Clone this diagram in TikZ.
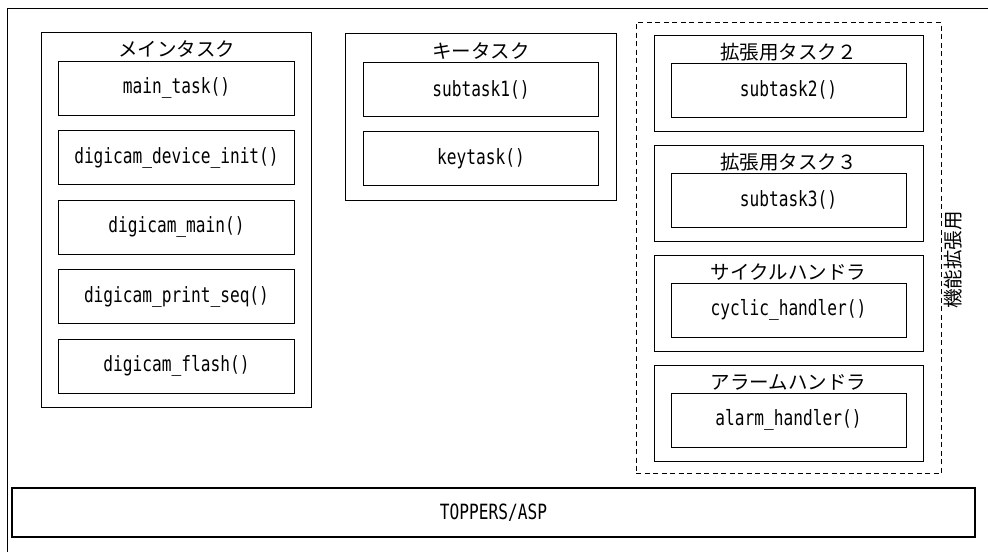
\documentclass[tikz,border=0pt]{standalone}
\usepackage{fontspec}
\setmainfont{Noto Sans CJK JP}
\newfontfamily\codefont[FakeStretch=0.77]{DejaVu Sans Mono}
\usetikzlibrary{matrix,positioning,fit}
\newcommand{\textmain}{メインタスク}
\newcommand{\textkey}{キータスク}
\newcommand{\textsubb}{拡張用タスク２}
\newcommand{\textsubc}{拡張用タスク３}
\newcommand{\textcyc}{サイクルハンドラ}
\newcommand{\textalm}{アラームハンドラ}
\newcommand{\textext}{機能拡張用}

\begin{document}
\begin{tikzpicture}[x=1pt,y=-1pt,
    any/.style={draw,line width=1pt,inner sep=0pt,outer sep=0pt},
    func/.style={any,minimum width=235pt,minimum height=54pt,%
                 font=\codefont\fontsize{21}{24}\selectfont},
    group/.style={any,inner xsep=17pt,inner ysep=14pt},
    title/.style={font=\fontsize{19.5}{22}\selectfont,inner sep=0pt},
    extframe/.style={draw,line width=1pt,dash pattern=on 5pt off 3.5pt,%
                 inner xsep=18pt,inner ysep=12.5pt}
]
\useasboundingbox (0,0) rectangle (988,552);
\draw[line width=1pt] (988,8) -| (7,552);

\matrix (mainfn) [matrix of nodes,nodes={func},row sep=14.5pt,inner sep=0pt] at (176.5,227)
{
  main\_task() \\
  digicam\_device\_init() \\
  digicam\_main() \\
  digicam\_print\_seq() \\
  digicam\_flash() \\
};
\coordinate (maintop) at ([yshift=14pt]mainfn.north);
\node[group, fit=(mainfn)(maintop)] (main) {};
\node[title] (maintitle) at ([yshift=-17pt]main.north) {\textmain};

\matrix (keyfn) [matrix of nodes,nodes={func},row sep=14pt,inner sep=0pt] at (481,124)
{
  subtask1() \\
  keytask() \\
};
\coordinate (keytop) at ([yshift=14pt]keyfn.north);
\node[group, fit=(keyfn)(keytop)] (key) {};
\node[title] (keytitle) at ([yshift=-17pt]key.north) {\textkey};

\node[func] (subbfn) at (788.5,90) {subtask2()};
\node[func, below=56pt of subbfn] (subcfn) {subtask3()};
\node[func, below=56pt of subcfn] (cycfn) {cyclic\_handler()};
\node[func, below=56pt of cycfn] (almfn) {alarm\_handler()};

\coordinate (subbtop) at ([yshift=14pt]subbfn.north);
\coordinate (subctop) at ([yshift=14pt]subcfn.north);
\coordinate (cyctop) at ([yshift=14pt]cycfn.north);
\coordinate (almtop) at ([yshift=14pt]almfn.north);
\node[group, fit=(subbfn)(subbtop)] (subb) {};
\node[group, fit=(subcfn)(subctop)] (subc) {};
\node[group, fit=(cycfn)(cyctop)] (cyc) {};
\node[group, fit=(almfn)(almtop)] (alm) {};
\node[title] (subbtitle) at ([yshift=-17pt]subb.north) {\textsubb};
\node[title] (subctitle) at ([yshift=-17pt]subc.north) {\textsubc};
\node[title] (cyctitle) at ([yshift=-17pt]cyc.north) {\textcyc};
\node[title] (almtitle) at ([yshift=-17pt]alm.north) {\textalm};

\node[extframe, fit=(subb)(alm)] (ext) {};
\node[title, rotate=90, anchor=north] (extlabel) at ([xshift=2pt,yshift=-12pt]ext.east) {\textext};

\node[any, line width=2pt, minimum width=963pt, minimum height=49pt,%
      font=\codefont\fontsize{21}{24}\selectfont] (asp) at (493.5,512.5) {TOPPERS/ASP};
\end{tikzpicture}
\end{document}
